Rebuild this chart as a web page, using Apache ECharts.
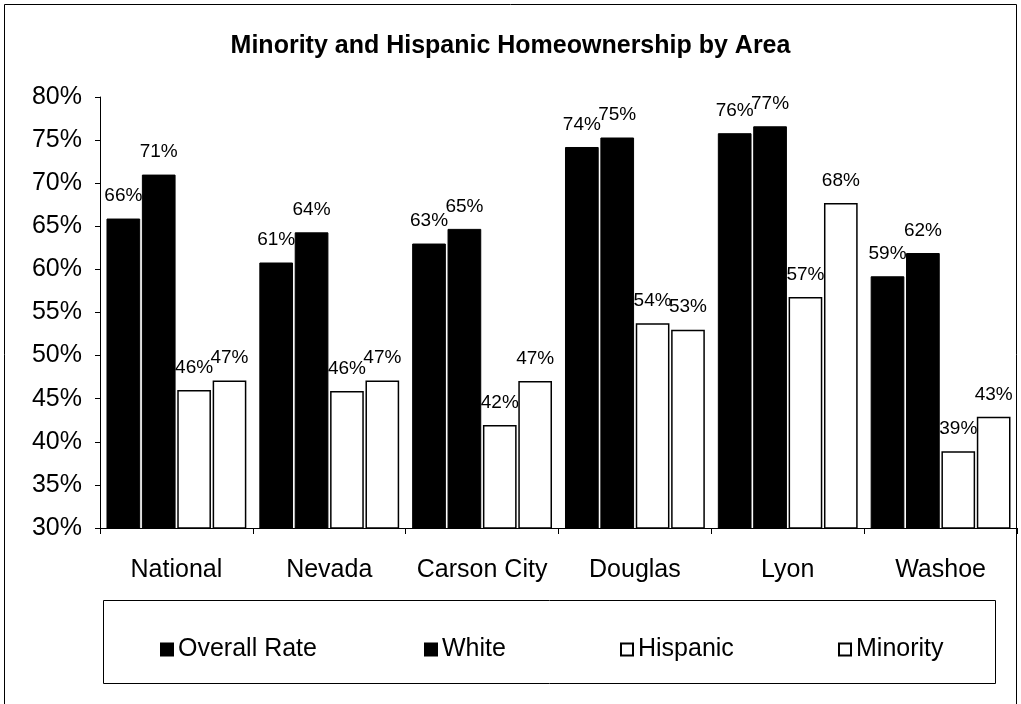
<!DOCTYPE html>
<html>
<head>
<meta charset="utf-8">
<script src="https://cdn.jsdelivr.net/npm/echarts@6/dist/echarts.min.js"></script>
<style>html,body{margin:0;padding:0;background:#fff}#c{width:1021px;height:704px}</style>
</head>
<body>
<div id="c"></div>
<script>
const categories = ['National', 'Nevada', 'Carson City', 'Douglas', 'Lyon', 'Washoe'];
const overallRate = [65.9, 60.8, 63.0, 74.2, 75.8, 59.2];
const white = [71.0, 64.3, 64.7, 75.3, 76.6, 61.9];
const hispanic = [46.0, 45.9, 41.95, 53.75, 56.8, 38.9];
const minority = [47.1, 47.1, 47.05, 53.0, 67.7, 42.9];
const yTicks = { min: 30, max: 80, interval: 5 };
const titleText = 'Minority and Hispanic Homeownership by Area';

const FONT = '"Liberation Sans", Arial, sans-serif';
const chart = echarts.init(document.getElementById('c'), null, { renderer: 'canvas' });

function makeSeries(name, data, fill) {
  return {
    name: name,
    type: 'bar',
    data: data,
    barGap: '5%',
    barCategoryGap: '8.5%',
    itemStyle: { color: fill, borderColor: '#000', borderWidth: fill === '#fff' ? 1.5 : 1 },
    label: {
      show: true,
      position: 'top',
      distance: 13,
      color: '#000',
      fontFamily: FONT,
      fontSize: 19,
      formatter: p => Math.round(p.value) + '%'
    }
  };
}

function makeLegend(name, left) {
  return {
    data: [name],
    left: left,
    top: 637,
    padding: 0,
    itemWidth: 12,
    itemHeight: 12,
    icon: 'rect',
    textStyle: { color: '#000', fontFamily: FONT, fontSize: 25 },
    selectedMode: false
  };
}

chart.setOption({
  animation: false,
  backgroundColor: '#fff',
  title: {
    text: titleText,
    left: 'center',
    top: 29,
    textStyle: { color: '#000', fontFamily: FONT, fontSize: 25, fontWeight: 'bold' }
  },
  grid: { left: 100, right: 4, top: 97, bottom: 176, outerBoundsMode: 'none' },
  legend: [
    makeLegend('Overall Rate', 160),
    makeLegend('White', 424),
    makeLegend('Hispanic', 620),
    makeLegend('Minority', 838)
  ],
  xAxis: {
    type: 'category',
    data: categories,
    axisLine: { lineStyle: { color: '#000', width: 1 } },
    axisTick: { show: true, interval: 0, length: 6, lineStyle: { color: '#000' } },
    axisLabel: { color: '#000', fontFamily: FONT, fontSize: 25, margin: 30, interval: 0 }
  },
  yAxis: {
    type: 'value',
    min: yTicks.min,
    max: yTicks.max,
    interval: yTicks.interval,
    axisLine: { show: true, lineStyle: { color: '#000', width: 1 } },
    axisTick: { show: true, length: 5, lineStyle: { color: '#000' } },
    splitLine: { show: false },
    axisLabel: { color: '#000', fontFamily: FONT, fontSize: 25, margin: 18, formatter: '{value}%' }
  },
  graphic: [
    { type: 'rect', shape: { x: 4.5, y: 4.5, width: 1012, height: 710 }, style: { fill: 'none', stroke: '#000', lineWidth: 1 }, silent: true },
    { type: 'rect', shape: { x: 103.5, y: 600.5, width: 892, height: 83 }, style: { fill: 'none', stroke: '#000', lineWidth: 1 }, silent: true }
  ],
  series: [
    makeSeries('Overall Rate', overallRate, '#000'),
    makeSeries('White', white, '#000'),
    makeSeries('Hispanic', hispanic, '#fff'),
    makeSeries('Minority', minority, '#fff')
  ]
});
</script>
</body>
</html>
